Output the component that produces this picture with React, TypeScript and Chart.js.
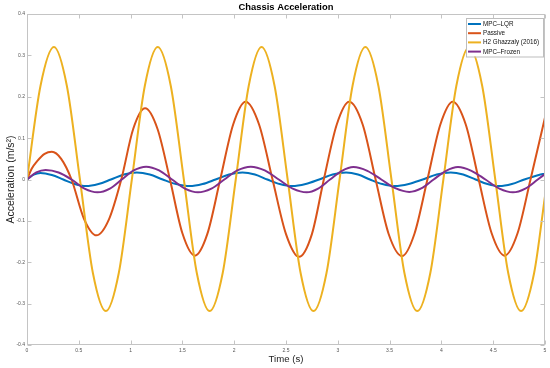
import React, { useEffect, useRef } from "react";
import { Chart, registerables } from "chart.js";

Chart.register(...registerables);

// ---- Data ----
const chartTitle = "Chassis Acceleration";
const seriesNames = ["MPC\u2013LQR", "Passive", "H2 Ghazzaly (2016)", "MPC\u2013Frozen"];
const seriesColors = ["#0072BD", "#D95319", "#EDB120", "#7E2F8E"];

const xTicksStep = 0.5;
const yTicksStep = 0.1;

const lqrTime = [0, 0.065, 0.13, 0.24, 0.35, 0.46, 0.57, 0.69, 0.81, 0.935, 1.06, 1.185, 1.31, 1.44, 1.57, 1.695, 1.82, 1.95, 2.08, 2.2, 2.32, 2.44, 2.56, 2.69, 2.82, 2.95, 3.08, 3.195, 3.31, 3.43, 3.55, 3.685, 3.82, 3.955, 4.09, 4.21, 4.33, 4.445, 4.56, 4.68, 4.8, 4.94, 5.0];
const lqrValue = [0, 0.012, 0.016, 0.011, 0, -0.011, -0.016, -0.011, 0, 0.012, 0.017, 0.012, 0, -0.011, -0.016, -0.011, 0, 0.012, 0.017, 0.012, 0, -0.011, -0.016, -0.011, 0, 0.012, 0.017, 0.012, 0, -0.011, -0.016, -0.011, 0, 0.012, 0.017, 0.012, 0, -0.011, -0.016, -0.011, 0, 0.011, 0.014];

const passiveTime = [0, 0.045, 0.1, 0.17, 0.24, 0.33, 0.43, 0.55, 0.67, 0.79, 0.91, 1.025, 1.14, 1.26, 1.38, 1.5, 1.62, 1.74, 1.865, 1.99, 2.11, 2.24, 2.37, 2.5, 2.625, 2.75, 2.865, 2.99, 3.11, 3.24, 3.365, 3.49, 3.62, 3.74, 3.865, 3.99, 4.11, 4.235, 4.36, 4.485, 4.61, 4.735, 4.86, 5.0];
const passiveValue = [0, 0.026, 0.045, 0.062, 0.067, 0.05, 0, -0.095, -0.135, -0.097, 0, 0.122, 0.172, 0.122, 0, -0.13, -0.184, -0.132, 0, 0.133, 0.188, 0.133, 0, -0.132, -0.187, -0.132, 0, 0.133, 0.188, 0.133, 0, -0.131, -0.185, -0.131, 0, 0.133, 0.188, 0.133, 0, -0.13, -0.184, -0.13, 0, 0.15];

const h2Time = [0, 0.13, 0.26, 0.385, 0.511, 0.636, 0.761, 0.886, 1.012, 1.137, 1.262, 1.388, 1.514, 1.639, 1.763, 1.889, 2.015, 2.14, 2.264, 2.39, 2.516, 2.641, 2.765, 2.891, 3.017, 3.142, 3.266, 3.392, 3.518, 3.643, 3.767, 3.893, 4.019, 4.144, 4.268, 4.394, 4.52, 4.645, 4.769, 4.895, 5.0];
const h2Value = [0, 0.226, 0.32, 0.226, 0, -0.226, -0.318, -0.226, 0, 0.226, 0.32, 0.226, 0, -0.226, -0.318, -0.226, 0, 0.226, 0.32, 0.226, 0, -0.226, -0.318, -0.226, 0, 0.226, 0.32, 0.226, 0, -0.226, -0.318, -0.226, 0, 0.226, 0.32, 0.226, 0, -0.226, -0.318, -0.226, -0.04];

const frozenTime = [0, 0.09, 0.18, 0.305, 0.43, 0.555, 0.68, 0.8, 0.915, 1.03, 1.15, 1.275, 1.4, 1.525, 1.65, 1.78, 1.905, 2.03, 2.16, 2.295, 2.43, 2.565, 2.7, 2.81, 2.925, 3.04, 3.15, 3.285, 3.42, 3.555, 3.69, 3.81, 3.925, 4.045, 4.16, 4.29, 4.425, 4.56, 4.69, 4.81, 4.93, 5.0];
const frozenValue = [0, 0.017, 0.023, 0.017, 0, -0.022, -0.031, -0.022, 0, 0.022, 0.031, 0.022, 0, -0.022, -0.031, -0.022, 0, 0.022, 0.031, 0.022, 0, -0.022, -0.031, -0.022, 0, 0.021, 0.03, 0.021, 0, -0.021, -0.03, -0.021, 0, 0.021, 0.03, 0.021, 0, -0.022, -0.031, -0.022, 0, 0.013];

const FONT = "'Liberation Sans', Arial, Helvetica, sans-serif";
const AXIS_COLOR = "#c4c4c4";

function pts(t: number[], v: number[]) {
  return t.map((x, i) => ({ x, y: v[i] }));
}

function fmt(v: any) {
  const n = Number(v);
  return String(Number(n.toFixed(3)));
}

const boxPlugin = {
  id: "matlabBox",
  afterDatasetsDraw(chart: any) {
    const { ctx, chartArea: a, scales } = chart;
    ctx.save();
    ctx.strokeStyle = AXIS_COLOR;
    ctx.lineWidth = 1;
    const L = Math.round(a.left) + 0.5;
    const R = Math.round(a.right) - 0.5;
    const T = Math.round(a.top) + 0.5;
    const B = Math.round(a.bottom) - 0.5;
    ctx.strokeRect(L, T, R - L, B - T);
    const tl = 4;
    ctx.beginPath();
    scales.x.ticks.forEach((t: any) => {
      const px = Math.round(scales.x.getPixelForValue(t.value)) + 0.5;
      ctx.moveTo(px, B);
      ctx.lineTo(px, B - tl);
      ctx.moveTo(px, T);
      ctx.lineTo(px, T + tl);
    });
    scales.y.ticks.forEach((t: any) => {
      const py = Math.round(scales.y.getPixelForValue(t.value)) + 0.5;
      ctx.moveTo(L, py);
      ctx.lineTo(L + tl, py);
      ctx.moveTo(R, py);
      ctx.lineTo(R - tl, py);
    });
    ctx.stroke();

    // title, centred over the plot area
    ctx.fillStyle = "#000";
    ctx.font = `bold 9.4px ${FONT}`;
    ctx.textAlign = "center";
    ctx.textBaseline = "middle";
    ctx.fillText(chartTitle, (a.left + a.right) / 2, 7.5);

    // legend box (inside, north-east)
    const w = 77;
    const rowH = 9.2;
    const h = 38.5;
    const lx = a.right - 2 - w;
    const ly = a.top + 4;
    ctx.fillStyle = "#ffffff";
    ctx.fillRect(lx, ly, w, h);
    ctx.strokeStyle = "#bdbdbd";
    ctx.lineWidth = 1;
    ctx.strokeRect(Math.round(lx) + 0.5, Math.round(ly) + 0.5, w, h);
    ctx.font = `6.3px ${FONT}`;
    ctx.textBaseline = "middle";
    ctx.textAlign = "left";
    chart.data.datasets.forEach((ds: any, i: number) => {
      const y = ly + 6 + i * rowH;
      ctx.strokeStyle = ds.borderColor;
      ctx.lineWidth = 2;
      ctx.beginPath();
      ctx.moveTo(lx + 2, y);
      ctx.lineTo(lx + 15, y);
      ctx.stroke();
      ctx.fillStyle = "#111";
      ctx.fillText(ds.label, lx + 17, y + 0.3);
    });
    ctx.restore();
  },
};

export default function App() {
  const ref = useRef<HTMLCanvasElement | null>(null);
  useEffect(() => {
    document.body.style.margin = "0";
    const canvas = ref.current;
    if (!canvas) return;
    const series = [
      pts(lqrTime, lqrValue),
      pts(passiveTime, passiveValue),
      pts(h2Time, h2Value),
      pts(frozenTime, frozenValue),
    ];
    const drawOrder = [4, 3, 2, 1];
    const chart = new Chart(canvas, {
      type: "line",
      data: {
        datasets: series.map((d, i) => ({
          label: seriesNames[i],
          data: d,
          borderColor: seriesColors[i],
          backgroundColor: seriesColors[i],
          borderWidth: 2,
          pointRadius: 0,
          cubicInterpolationMode: "monotone" as const,
          fill: false,
          order: drawOrder[i],
        })),
      },
      options: {
        animation: false,
        responsive: false,
        devicePixelRatio: 1,
        layout: { padding: { left: 0, right: 5, top: 14, bottom: 0 } },
        plugins: {
          legend: { display: false },
          tooltip: { enabled: false },
          title: { display: false },
        },
        scales: {
          x: {
            type: "linear",
            min: 0,
            max: 5,
            grid: { display: false, drawTicks: false },
            border: { display: false },
            ticks: {
              stepSize: xTicksStep,
              font: { family: FONT, size: 5 },
              color: "#555",
              padding: 3,
              maxRotation: 0,
              autoSkip: false,
              callback: (v: any) => fmt(v),
            },
            title: {
              display: true,
              text: "Time (s)",
              color: "#222",
              font: { family: FONT, size: 9.6 },
              padding: { top: 0, bottom: 3 },
            },
            afterFit: (s: any) => {
              s.height = 23;
            },
          },
          y: {
            type: "linear",
            min: -0.4,
            max: 0.4,
            grid: { display: false, drawTicks: false },
            border: { display: false },
            ticks: {
              stepSize: yTicksStep,
              font: { family: FONT, size: 5 },
              color: "#555",
              padding: 2,
              autoSkip: false,
              callback: (v: any) => fmt(v),
            },
            title: {
              display: true,
              text: "Acceleration (m/s\u00B2)",
              color: "#222",
              font: { family: FONT, size: 10.5 },
              padding: { top: 5, bottom: 0 },
            },
            afterFit: (s: any) => {
              s.width = 27;
            },
          },
        },
      },
      plugins: [boxPlugin],
    } as any);
    return () => chart.destroy();
  }, []);
  return (
    <div style={{ width: 550, height: 368, background: "#fff" }}>
      <canvas ref={ref} width={550} height={368} style={{ width: 550, height: 368, display: "block" }} />
    </div>
  );
}
